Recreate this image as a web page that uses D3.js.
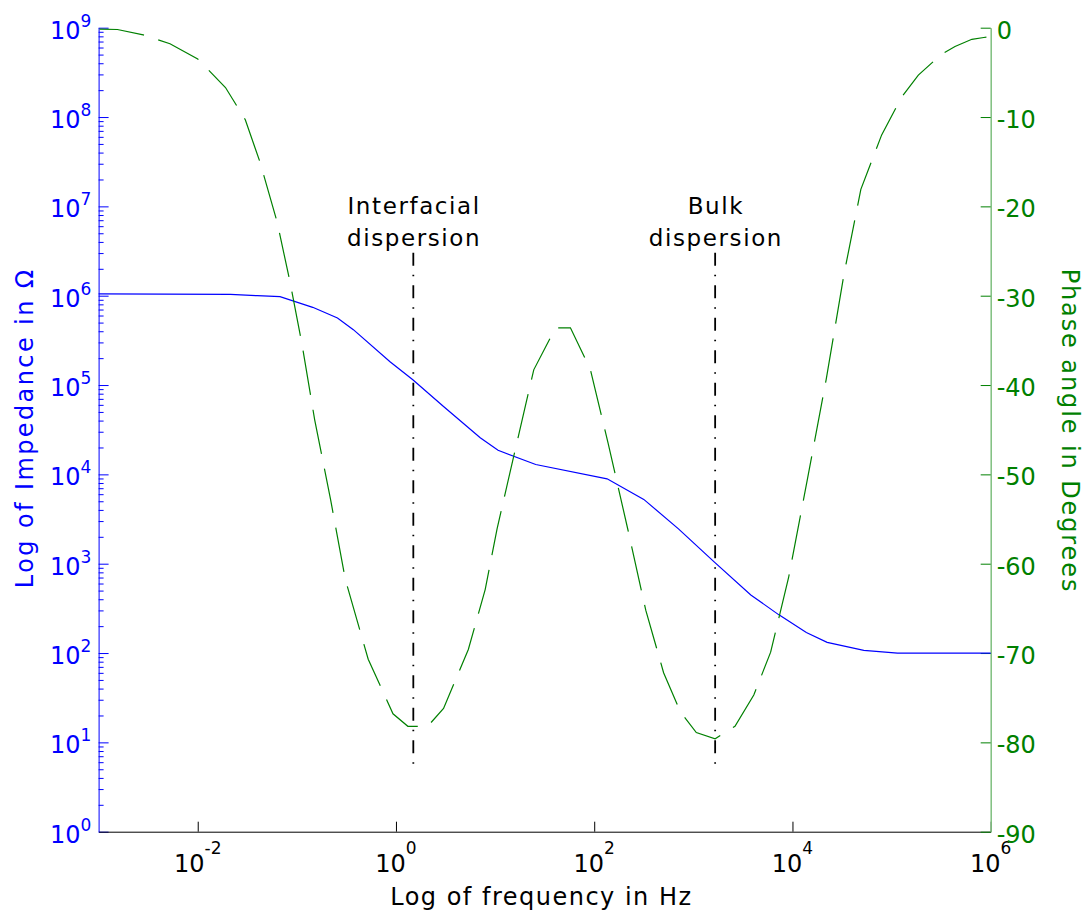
<!DOCTYPE html>
<html>
<head>
<meta charset="utf-8">
<script src="https://cdn.jsdelivr.net/npm/d3@7"></script>
<style>
  html, body { margin: 0; padding: 0; background: #fff; }
  svg { display: block; font-family: "DejaVu Sans", Verdana, sans-serif; }
</style>
</head>
<body>
<svg id="chart" width="1091" height="915"></svg>
<script>
// ---- data (log10 of frequency in Hz) ----
const impLogFreq = [-3, -1.67, -1.40, -1.17, -0.84, -0.59, -0.43, -0.06, 0.17, 0.48, 0.85, 1.03, 1.41, 2.13, 2.50, 2.85, 3.21, 3.58, 3.86, 4.14, 4.35, 4.72, 5.06, 6];
const impLogZ    = [6.02, 6.015, 6.00, 5.99, 5.87, 5.75, 5.62, 5.26, 5.06, 4.76, 4.41, 4.27, 4.11, 3.95, 3.72, 3.39, 3.02, 2.65, 2.43, 2.23, 2.12, 2.03, 2.00, 2.00];

const phaseLogFreq = [-2.99, -2.81, -2.55, -2.28, -2.0, -1.72, -1.52, -1.37, -1.20, -1.07, -0.95, -0.82, -0.66, -0.51, -0.28, -0.03, 0.12, 0.32, 0.48, 0.73, 0.90, 1.02, 1.15, 1.39, 1.61, 1.76, 1.96, 2.14, 2.34, 2.52, 2.70, 2.87, 3.03, 3.22, 3.42, 3.61, 3.78, 3.96, 4.15, 4.34, 4.52, 4.69, 4.90, 5.10, 5.27, 5.50, 5.64, 5.81, 5.93, 6.0];
const phaseDeg     = [-0.15, -0.2, -0.8, -1.8, -3.5, -6.7, -10.3, -15.1, -21.7, -28.4, -35.3, -43.9, -52.8, -61.8, -70.7, -76.8, -78.2, -78.2, -76.2, -69.6, -62.9, -56.1, -49.8, -38.3, -33.6, -33.6, -38.2, -46.5, -56.2, -65.2, -72.2, -76.6, -78.9, -79.6, -78.2, -74.7, -69.9, -61.6, -50.6, -39.4, -27.6, -18.1, -12.0, -7.8, -5.3, -3.0, -2.1, -1.3, -1.1, -1.0];

const markerLogFreq = [0.175, 3.22];
const markerPhaseRange = [-25.2, -82.5];
const markerLabels = [["Interfacial", "dispersion"], ["Bulk", "dispersion"]];

const xTickExps = [-2, 0, 2, 4, 6];
const yTickExps = [0, 1, 2, 3, 4, 5, 6, 7, 8, 9];
const phaseTicks = [0, -10, -20, -30, -40, -50, -60, -70, -80, -90];

const xTitle = "Log of frequency in Hz";
const yTitle = "Log of Impedance in Ω";
const y2Title = "Phase angle in Degrees";

// ---- layout ----
const L = 98.6, R = 990.7, T = 27.7, B = 831.7;
const BLUE = "#0000ff", GREEN = "#008000";

const svg = d3.select("#chart");
const x = d3.scaleLog().domain([1e-3, 1e6]).range([L, R]);
const y = d3.scaleLog().domain([1, 1e9]).range([B, T]);
const y2 = d3.scaleLinear().domain([-90, 0]).range([B, T]);

// left axis with minor ticks
const minorVals = [];
for (let k = 0; k < 9; k++) for (let m = 2; m <= 9; m++) minorVals.push(m * Math.pow(10, k));
const gL = svg.append("g").attr("transform", `translate(${L},0)`);
gL.call(d3.axisRight(y).tickValues(minorVals).tickSize(5).tickFormat(""));
gL.call(g => g.selectAll(".domain").remove());
const gL2 = svg.append("g").attr("transform", `translate(${L},0)`)
  .call(d3.axisRight(y).tickValues(yTickExps.map(e => Math.pow(10, e))).tickSize(10).tickSizeOuter(0).tickFormat(""));
svg.selectAll("g line").attr("stroke", BLUE);
gL2.select(".domain").attr("stroke", BLUE);

// left tick labels
yTickExps.forEach(e => {
  svg.append("text").attr("x", L - 18).attr("y", y(Math.pow(10, e)) + 11)
    .attr("text-anchor", "end").attr("fill", BLUE).attr("font-size", 24).text("10");
  svg.append("text").attr("x", L - 18).attr("y", y(Math.pow(10, e)) - 1)
    .attr("fill", BLUE).attr("font-size", 17).text(String(e));
});

// bottom axis
const gB = svg.append("g").attr("transform", `translate(0,${B})`)
  .call(d3.axisTop(x).tickValues(xTickExps.map(e => Math.pow(10, e))).tickSize(10).tickSizeOuter(0).tickFormat(""));
gB.selectAll("line").attr("stroke", "#000");
gB.select(".domain").attr("stroke", "#000");
xTickExps.forEach(e => {
  const cx = x(Math.pow(10, e));
  const t = svg.append("text").attr("y", B + 40).attr("fill", "#000").attr("font-size", 24);
  t.append("tspan").text("10");
  t.append("tspan").attr("font-size", 17).attr("dy", -18).text(String(e));
  const w = t.node().getComputedTextLength();
  t.attr("x", cx - w / 2);
});

// right axis
const gR = svg.append("g").attr("transform", `translate(${R},0)`)
  .call(d3.axisLeft(y2).tickValues(phaseTicks).tickSize(10).tickSizeOuter(0).tickFormat(""));
gR.selectAll("line").attr("stroke", GREEN);
gR.select(".domain").attr("stroke", "#7fbf7f").attr("stroke-width", 1.5);
phaseTicks.forEach(v => {
  svg.append("text").attr("x", R + 6).attr("y", y2(v) + 11)
    .attr("fill", GREEN).attr("font-size", 24).text(String(v));
});

// impedance curve
const impLine = d3.line().x(d => x(Math.pow(10, d[0]))).y(d => y(Math.pow(10, d[1])));
svg.append("path").datum(impLogFreq.map((f, i) => [f, impLogZ[i]]))
  .attr("d", impLine).attr("fill", "none").attr("stroke", BLUE).attr("stroke-width", 1.2);

// phase curve
const phLine = d3.line().x(d => x(Math.pow(10, d[0]))).y(d => y2(d[1]));
svg.append("path").datum(phaseLogFreq.map((f, i) => [f, phaseDeg[i]]))
  .attr("d", phLine).attr("fill", "none").attr("stroke", GREEN).attr("stroke-width", 1.2)
  .attr("stroke-dasharray", "45,15");

// helper: centered text with letter spacing (compensating trailing space)
function spacedText(sel, s, size, ls) {
  return sel.attr("font-size", size).attr("letter-spacing", ls + "px").attr("text-anchor", "middle")
    .attr("dx", ls / 2).text(s);
}

// markers
markerLogFreq.forEach((f, i) => {
  const mx = x(Math.pow(10, f));
  svg.append("line").attr("x1", mx).attr("x2", mx)
    .attr("y1", y2(markerPhaseRange[0])).attr("y2", y2(markerPhaseRange[1]))
    .attr("stroke", "#000").attr("stroke-width", 1.8).attr("stroke-dasharray", "13,9,1.5,9");
  markerLabels[i].forEach((s, j) => {
    spacedText(svg.append("text").attr("x", mx).attr("y", 214 + j * 32).attr("fill", "#000"), s, 23, 1.6);
  });
});

// titles
spacedText(svg.append("text").attr("x", (L + R) / 2 - 4).attr("y", 905).attr("fill", "#000"), xTitle, 24, 1.5);
spacedText(svg.append("text").attr("transform", `translate(33,429) rotate(-90)`).attr("fill", BLUE), yTitle, 24, 2.4);
spacedText(svg.append("text").attr("transform", `translate(1062,430) rotate(90)`).attr("fill", GREEN), y2Title, 24, 1.9);
</script>
</body>
</html>
